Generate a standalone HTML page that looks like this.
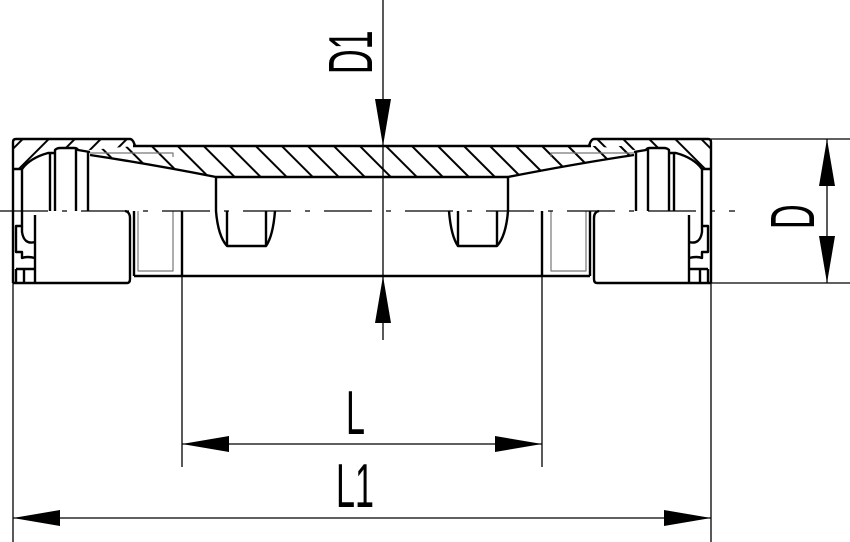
<!DOCTYPE html>
<html><head><meta charset="utf-8"><style>html,body{margin:0;padding:0;background:#fff}svg{display:block}</style></head>
<body>
<svg width="850" height="542" viewBox="0 0 850 542" xmlns="http://www.w3.org/2000/svg">
<defs>
<pattern id="hb" patternUnits="userSpaceOnUse" width="18.4" height="20" patternTransform="rotate(-45)">
<line x1="4" y1="0" x2="4" y2="20" stroke="#000" stroke-width="2"/></pattern>
<pattern id="hf" patternUnits="userSpaceOnUse" width="18.4" height="20" patternTransform="rotate(45)">
<line x1="4" y1="0" x2="4" y2="20" stroke="#000" stroke-width="2"/></pattern>
<g id="half" fill="none" stroke="#000" stroke-width="2.4" stroke-linejoin="round">
 <!-- nut hatch -->
 <path d="M13,139 L133,139 L133,146 L90,150 L78,148 L57,148 L55,153 L48,153 Q30,158 22,169 L13,169 Z" fill="url(#hf)" stroke="none"/>
 <!-- nut outline -->
 <path d="M13,283 L13,142 Q13,139 16,139 L130,139 Q133,139 135,146"/>
 <path d="M13,169 L22,169 Q30,158 48,153 L55,153"/>
 <path d="M55,211 L55,150 Q57,148 60,148 L74,148 Q77,148 78,150 L90,152"/>
 <line x1="22" y1="169" x2="22" y2="211"/>
 <line x1="50" y1="153" x2="50" y2="211"/>
 <line x1="76" y1="149" x2="76" y2="211"/>
 <line x1="88" y1="152" x2="88" y2="211"/>
 <!-- lower nut -->
 <path d="M13,283 L127,283 Q130,283 130,279 L130,218 Q130,212 125,211"/>
 <line x1="134" y1="211" x2="134" y2="276"/>
 <path d="M22,211 L22,226 L16,226 L16,252 L22,252 L22,258 Q27,256 35,258"/>
 <path d="M22,226 L22,232 Q24,245 35,242"/>
 <line x1="35" y1="215" x2="35" y2="283"/>
 <path d="M16,269 L35,269 M24,269 L24,283 M16,269 L16,283"/>
 <!-- pipe -->
 <path d="M90,155 Q150,164 216,177"/>
 <line x1="134" y1="276" x2="182" y2="276"/>
 <line x1="182" y1="211" x2="182" y2="276"/>
 <path d="M216,177 L216,211 Q218,236 227,246 L266,246 Q273,236 275,211"/>
 <line x1="227" y1="211" x2="227" y2="246"/>
 <line x1="266" y1="211" x2="266" y2="246"/>
 <g stroke="#777" stroke-width="1.2">
  <path d="M90,153 L173,153 L173,157"/>
  <path d="M138,211 L138,271 L173,271 L173,211"/>
 </g>
</g>
</defs>
<rect width="850" height="542" fill="#fff"/>
<!-- pipe hatch -->
<path d="M90,150 L135,146 L634,146 L634,150 L631,155 Q570,164 508,177 L216,177 Q150,164 93,155 Z" fill="url(#hb)"/>
<g fill="none" stroke="#000" stroke-width="2.4">
 <line x1="133" y1="146" x2="591" y2="146"/>
 <line x1="216" y1="177" x2="508" y2="177"/>
 <line x1="182" y1="276" x2="542" y2="276"/>
</g>
<use href="#half"/>
<use href="#half" transform="translate(724,0) scale(-1,1)"/>
<!-- centerline -->
<line x1="0" y1="211" x2="735" y2="211" stroke="#000" stroke-width="1.3" stroke-dasharray="48 14 5 14"/>
<!-- dims -->
<g stroke="#000" stroke-width="1.3" fill="none">
 <line x1="383" y1="0" x2="383" y2="340"/>
 <line x1="13" y1="283" x2="13" y2="542"/>
 <line x1="711" y1="283" x2="711" y2="542"/>
 <line x1="182" y1="276" x2="182" y2="467"/>
 <line x1="542" y1="276" x2="542" y2="467"/>
 <line x1="182" y1="444" x2="542" y2="444"/>
 <line x1="13" y1="518" x2="711" y2="518"/>
 <line x1="711" y1="139" x2="850" y2="139"/>
 <line x1="711" y1="283" x2="850" y2="283"/>
 <line x1="827" y1="139" x2="827" y2="283"/>
</g>
<g fill="#000">
 <polygon points="383,146 375,99 391,99"/>
 <polygon points="383,276 375,323 391,323"/>
 <polygon points="182,444 229,436 229,452"/>
 <polygon points="542,444 495,436 495,452"/>
 <polygon points="13,518 60,510 60,526"/>
 <polygon points="711,518 664,510 664,526"/>
 <polygon points="827,139 819,186 835,186"/>
 <polygon points="827,283 819,236 835,236"/>
</g>
<g font-family="Liberation Sans, sans-serif" font-size="62" fill="#000">
 <text transform="translate(346,434) scale(0.55,1)">L</text>
 <text transform="translate(336,507) scale(0.55,1)">L1</text>
 <text transform="translate(372,74) rotate(-90) scale(0.55,1)">D1</text>
 <text transform="translate(814,229) rotate(-90) scale(0.55,1)">D</text>
</g>
</svg>
</body></html>
